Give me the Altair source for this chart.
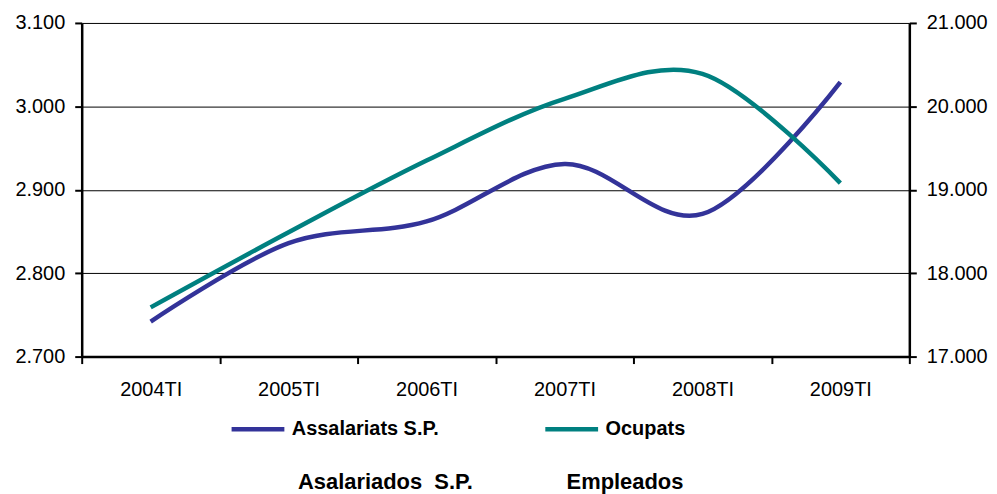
import altair as alt
import pandas as pd

periods = ["2004TI", "2005TI", "2006TI", "2007TI", "2008TI", "2009TI"]
assalariats = [2.742, 2.836, 2.862, 2.931, 2.871, 3.029]
ocupats = [17.59, 18.49, 19.35, 20.09, 20.39, 19.08]
series_names = ["Assalariats S.P.", "Ocupats"]
series_colors = ["#333399", "#008080"]
left_ticks = [2.7, 2.8, 2.9, 3.0, 3.1]
right_ticks = [17, 18, 19, 20, 21]
bottom_labels = ["Asalariados\u00a0 S.P.", "Empleados"]

idx = list(range(len(periods)))
df_a = pd.DataFrame({"idx": idx, "period": periods, "value": assalariats, "series": series_names[0]})
df_o = pd.DataFrame({"idx": idx, "period": periods, "value": ocupats, "series": series_names[1]})

FONT = "Liberation Sans"
FS = 20
W, H = 831, 335
n = len(periods)
band = W / n

arr = "[" + ",".join("'" + p + "'" for p in periods) + "]"
label_expr = f"datum.value < {n - 1} ? {arr}[datum.value + 0.5] : ''"

color = alt.Color(
    "series:N",
    scale=alt.Scale(domain=series_names, range=series_colors),
    legend=alt.Legend(
        title=None,
        orient="none",
        direction="horizontal",
        legendX=148,
        legendY=379,
        symbolType="stroke",
        symbolSize=2809,
        symbolStrokeWidth=4.5,
        labelFont=FONT,
        labelFontSize=FS,
        labelFontWeight="bold",
        labelColor="black",
        labelOffset=5,
        columnPadding=97,
        labelLimit=300,
    ),
)

x_scale = alt.Scale(domain=[-0.5, n - 0.5], nice=False, zero=False)
x_axis = alt.Axis(
    values=[i - 0.5 for i in range(n + 1)],
    labelExpr=label_expr,
    labelOffset=band / 2,
    labelOverlap=False,
    labelFlush=False,
    labelBound=False,
    grid=False,
    title=None,
    domainWidth=2.5,
    tickWidth=2,
    tickSize=7,
    labelPadding=16,
)

line_a = alt.Chart(df_a).mark_line(interpolate="cardinal", strokeWidth=4.5).encode(
    x=alt.X("idx:Q", scale=x_scale, axis=x_axis),
    y=alt.Y(
        "value:Q",
        scale=alt.Scale(domain=[2.7, 3.1], nice=False, zero=False),
        axis=alt.Axis(
            values=left_ticks,
            format=".3f",
            grid=True,
            gridColor="black",
            gridWidth=1,
            gridOpacity=1,
            title=None,
            domainWidth=2.5,
            tickWidth=2,
            tickSize=7,
            labelPadding=10,
        ),
    ),
    color=color,
)

line_o = alt.Chart(df_o).mark_line(interpolate="cardinal", strokeWidth=4.5).encode(
    x=alt.X("idx:Q", scale=x_scale, axis=x_axis),
    y=alt.Y(
        "value:Q",
        scale=alt.Scale(domain=[17, 21], nice=False, zero=False),
        axis=alt.Axis(
            orient="right",
            values=right_ticks,
            format=".3f",
            grid=False,
            title=None,
            domainWidth=2.5,
            tickWidth=2,
            tickSize=7,
            labelPadding=10,
        ),
    ),
    color=color,
)

txt1 = alt.Chart(pd.DataFrame({"t": [bottom_labels[0]]})).mark_text(
    font=FONT, fontSize=22, fontWeight="bold", color="black", baseline="middle"
).encode(text="t:N", x=alt.value(305), y=alt.value(461))

txt2 = alt.Chart(pd.DataFrame({"t": [bottom_labels[1]]})).mark_text(
    font=FONT, fontSize=22, fontWeight="bold", color="black", baseline="middle"
).encode(text="t:N", x=alt.value(545.5), y=alt.value(461))

chart = (
    alt.layer(line_a, line_o, txt1, txt2)
    .resolve_scale(y="independent")
    .properties(
        width=W,
        height=H,
        padding={"left": 74, "top": 14, "right": 80, "bottom": 145},
        autosize=alt.AutoSizeParams(type="none"),
    )
    .configure_view(stroke=None)
    .configure_axis(
        domainColor="black",
        tickColor="black",
        labelColor="black",
        labelFont=FONT,
        labelFontSize=FS,
    )
)

chart.save("out.html", embed_options={"renderer": "svg", "actions": False})
